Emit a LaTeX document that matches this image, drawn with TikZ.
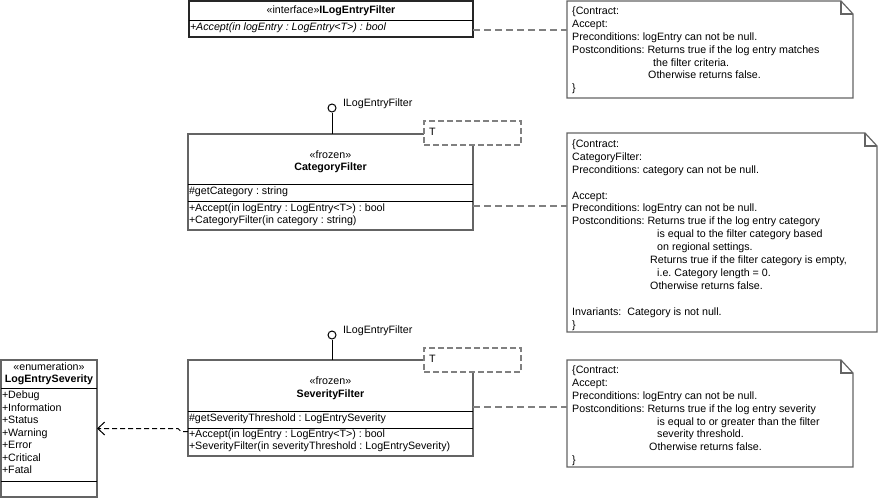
\documentclass[tikz,border=0pt]{standalone}
\usepackage{fontspec}
\setmainfont{Liberation Sans}
\usetikzlibrary{arrows.meta,calc}
\definecolor{boxgray}{RGB}{100,100,100}
\definecolor{dashgray}{RGB}{128,128,128}
\frenchspacing
\begin{document}
\begin{tikzpicture}[x=1pt,y=-1pt,
  font=\fontsize{10.67}{12.9}\selectfont,
  classbox/.style={draw=boxgray, line width=1.5pt, fill=white, anchor=north west, inner sep=0pt, outer sep=0pt},
  ifacebox/.style={classbox, draw=black!85},
  divider/.style={draw=black, line width=1pt},
  txt/.style={inner sep=0pt, outer sep=0pt, text height=7.7pt, text depth=2.2pt},
  ltxt/.style={txt, anchor=west},
  notebox/.style={anchor=north west, inner sep=0pt, outer sep=0pt},
  notetext/.style={inner sep=0pt, align=left, anchor=north west},
  noteline/.style={draw=boxgray, line width=1.2pt, line join=miter},
  noteconn/.style={draw=dashgray, line width=1.5pt, dash pattern=on 7pt off 4pt},
  tmpl/.style={draw=dashgray, line width=2pt, dash pattern=on 6pt off 3pt, fill=white, anchor=north west, inner sep=0pt, outer sep=0pt, minimum width=97pt, minimum height=24pt},
  lolli/.style={circle, draw=black, line width=1pt, fill=white, minimum size=8pt, inner sep=0pt},
  depline/.style={draw=black, line width=1pt, dash pattern=on 5pt off 3pt, -{Straight Barb[length=7pt,width=13pt]}}
]
\useasboundingbox[fill=white] (0,0) rectangle (878,498);

% ---------- interface ----------
\node[ifacebox, minimum width=284pt, minimum height=36pt] (iface) at (189,1) {};
\draw[divider] (189,20) -- (473,20);
\node[txt] (ifacename) at (331,11) {«interface»\textbf{ILogEntryFilter}};
\node[ltxt] (ifaceop) at (190,28) {\textit{+Accept(in logEntry : LogEntry<T>) : bool}};

% ---------- notes ----------
\newcommand\umlnote[1]{%
  \draw[noteline] (#1.north west) -- ([xshift=-12pt]#1.north east) -- ([yshift=-13pt]#1.north east) -- (#1.south east) -- (#1.south west) -- cycle;
  \draw[noteline] ([xshift=-12pt]#1.north east) -- ([xshift=-12pt,yshift=-13pt]#1.north east) -- ([yshift=-13pt]#1.north east);}

\node[notebox, minimum width=286pt, minimum height=97pt] (note1) at (567,1) {};
\umlnote{note1}
\node[notetext] (note1txt) at (572,6.5) {\{Contract:\\
Accept:\\
Preconditions: logEntry can not be null.\\
Postconditions: Returns true if the log entry matches\\
\hspace*{81pt}the filter criteria.\\
\hspace*{76pt}Otherwise returns false.\\
\}};

\node[notebox, minimum width=310pt, minimum height=199pt] (note2) at (567,133) {};
\umlnote{note2}
\node[notetext] (note2txt) at (572,139.5) {\{Contract:\\
CategoryFilter:\\
Preconditions: category can not be null.\\
\mbox{}\\
Accept:\\
Preconditions: logEntry can not be null.\\
Postconditions: Returns true if the log entry category\\
\hspace*{85pt}is equal to the filter category based\\
\hspace*{85pt}on regional settings.\\
\hspace*{78pt}Returns true if the filter category is empty,\\
\hspace*{85pt}i.e. Category length = 0.\\
\hspace*{78pt}Otherwise returns false.\\
\mbox{}\\
Invariants:\ \ Category is not null.\\
\}};

\node[notebox, minimum width=286pt, minimum height=107pt] (note3) at (567,360) {};
\umlnote{note3}
\node[notetext] (note3txt) at (572,365.5) {\{Contract:\\
Accept:\\
Preconditions: logEntry can not be null.\\
Postconditions: Returns true if the log entry severity\\
\hspace*{85pt}is equal to or greater than the filter\\
\hspace*{85pt}severity threshold.\\
\hspace*{77pt}Otherwise returns false.\\
\}};

% ---------- CategoryFilter ----------
\node[classbox, minimum width=285pt, minimum height=96pt] (catf) at (188,134) {};
\draw[divider] (188,184) -- (473,184);
\draw[divider] (188,201) -- (473,201);
\node[tmpl] (catT) at (424,121) {};
\node[ltxt] (catTl) at (429,133) {T};
\node[txt] (catst) at (330.5,156) {«frozen»};
\node[txt] (catnm) at (330.5,168) {\textbf{CategoryFilter}};
\node[ltxt] (catat) at (189,192) {\#getCategory : string};
\node[ltxt] (catop1) at (189,209) {+Accept(in logEntry : LogEntry<T>) : bool};
\node[ltxt] (catop2) at (189,221) {+CategoryFilter(in category : string)};
\node[lolli] (lol1) at (332,108) {};
\draw[line width=1pt] (lol1) -- (lol1 |- catf.north);
\node[ltxt] (lol1l) at (343,104) {ILogEntryFilter};

% ---------- SeverityFilter ----------
\node[classbox, minimum width=285pt, minimum height=96pt] (sevf) at (188,360) {};
\draw[divider] (188,411) -- (473,411);
\draw[divider] (188,428) -- (473,428);
\node[tmpl] (sevT) at (424,348) {};
\node[ltxt] (sevTl) at (429,360) {T};
\node[txt] (sevst) at (330.5,382) {«frozen»};
\node[txt] (sevnm) at (330.5,395) {\textbf{SeverityFilter}};
\node[ltxt] (sevat) at (189,419) {\#getSeverityThreshold : LogEntrySeverity};
\node[ltxt] (sevop1) at (189,435) {+Accept(in logEntry : LogEntry<T>) : bool};
\node[ltxt] (sevop2) at (189,447) {+SeverityFilter(in severityThreshold : LogEntrySeverity)};
\node[lolli] (lol2) at (332,335) {};
\draw[line width=1pt] (lol2) -- (lol2 |- sevf.north);
\node[ltxt] (lol2l) at (343,331) {ILogEntryFilter};

% ---------- enumeration ----------
\node[classbox, minimum width=96pt, minimum height=137pt] (enum) at (1,360) {};
\draw[divider] (1,388) -- (97,388);
\draw[divider] (1,481) -- (97,481);
\node[txt] (enst) at (49,368) {«enumeration»};
\node[txt] (ennm) at (49,380) {\textbf{LogEntrySeverity}};
\node[ltxt] (e1) at (2,396) {+Debug};
\node[ltxt] (e2) at (2,408.5) {+Information};
\node[ltxt] (e3) at (2,421) {+Status};
\node[ltxt] (e4) at (2,433.5) {+Warning};
\node[ltxt] (e5) at (2,446) {+Error};
\node[ltxt] (e6) at (2,458.5) {+Critical};
\node[ltxt] (e7) at (2,471) {+Fatal};

% ---------- connectors ----------
\draw[noteconn] ([yshift=-11pt]iface.east) -- ([yshift=-11pt]iface.east -| note1.west);
\draw[noteconn] ([yshift=-24pt]catf.east) -- ([yshift=-24pt]catf.east -| note2.west);
\draw[noteconn] ([yshift=1pt]sevf.east) -- ([yshift=1pt]sevf.east -| note3.west);
\draw[depline] ([yshift=-23.5pt]sevf.west) -- ++(-7,0) -- ++(-3,-3) -- (enum.east);
\end{tikzpicture}
\end{document}
